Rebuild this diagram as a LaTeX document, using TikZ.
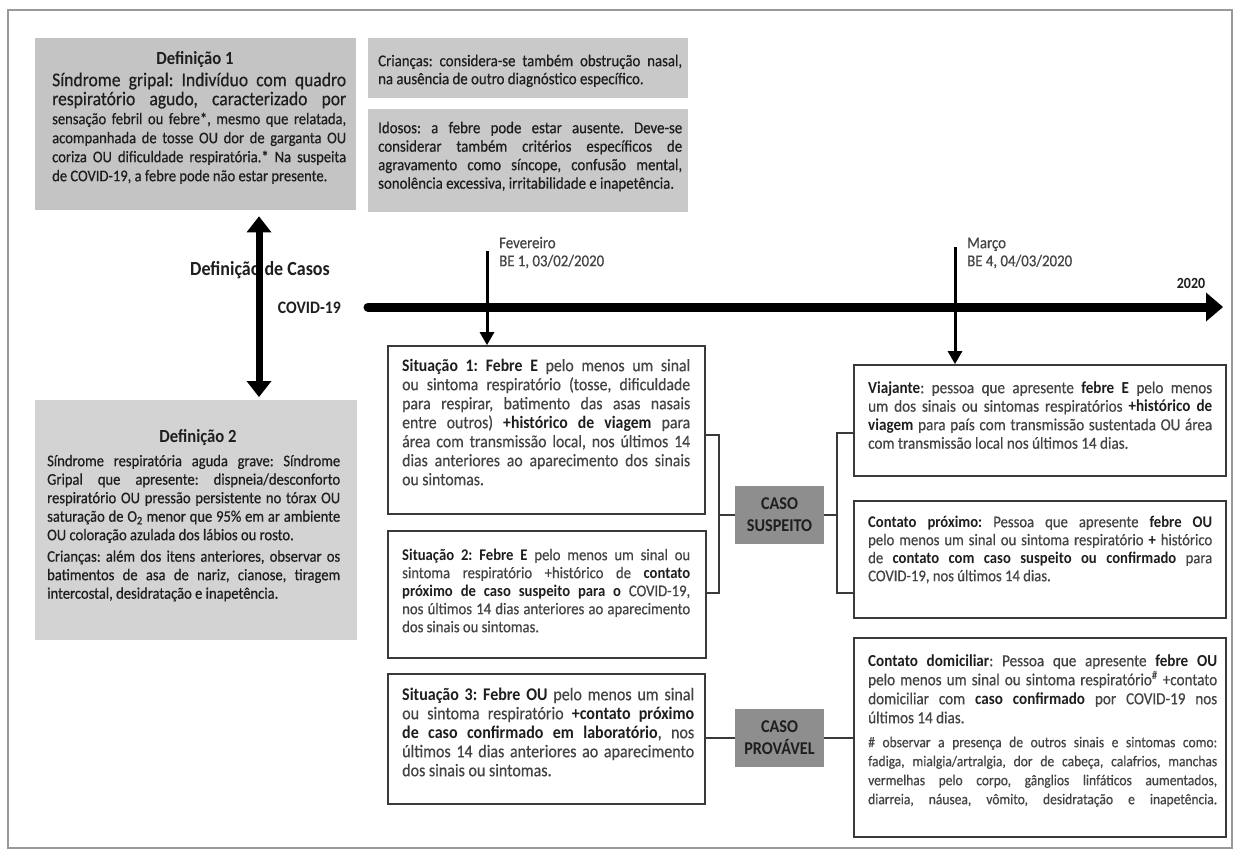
\documentclass[tikz,border=0pt]{standalone}
\usepackage{fontspec}
\setmainfont{Carlito}[FakeStretch=0.9, UprightFeatures={FakeBold=0.5}]
\usetikzlibrary{arrows.meta}
\definecolor{gA}{HTML}{C4C4C4}
\definecolor{gB}{HTML}{C9C9C9}
\definecolor{gC}{HTML}{D3D3D3}
\definecolor{gD}{HTML}{8E8E8E}
\definecolor{ink}{HTML}{1E1E1E}
\definecolor{soft}{HTML}{444444}
\definecolor{edge}{HTML}{3A3A3A}
\newcommand{\st}{\rule{0pt}{1em}}
\newcommand{\strongt}[1]{\textbf{\color{ink}#1}}
\newcommand{\fsz}[2]{\fontsize{#1}{#2}\selectfont}
\tolerance=10000
\hbadness=10000
\frenchspacing
\begin{document}
\begin{tikzpicture}[x=1pt,y=-1pt,
  graybox/.style={draw=none, inner sep=0pt, anchor=north west},
  wbox/.style={draw=edge, line width=1.8pt, fill=white, inner sep=0pt, anchor=north west},
  casebox/.style={fill=gD, inner sep=0pt, minimum width=89pt, minimum height=58pt, align=center, text=ink, font=\bfseries\fsz{18}{22}},
  txt/.style={anchor=north west, inner sep=0pt, align=justify},
  lbl/.style={anchor=base, inner sep=0pt, text=ink},
  link/.style={draw=edge, line width=1.6pt},
  tickarrow/.style={line width=3pt, -{Triangle[width=15pt,length=13pt,line width=0pt]}}
]
\useasboundingbox[fill=white] (0,0) rectangle (1239,859);
\draw[draw=black!40, line width=1.2pt] (8,10) rectangle (1232,848);

% Definition 1
\node[graybox, fill=gA, minimum width=321pt, minimum height=172pt] (d1) at (35,38) {};
\node[lbl, font=\bfseries\fsz{18.5}{20}] (d1h) at (195,65) {Definição 1};
\node[txt, text width=294pt, text=ink, font=\fsz{16.2}{19}] (d1t) at (52,66.5) {\noindent\parfillskip=0pt {\fsz{19.5}{19}\st Síndrome gripal: Indivíduo com quadro \linebreak respiratório agudo, caracterizado por} \linebreak sensação febril ou febre*, mesmo que relatada, \linebreak acompanhada de tosse OU dor de garganta OU \linebreak coriza OU dificuldade respiratória.* Na suspeita \linebreak de COVID-19, a febre pode não estar presente.};

% Criancas / Idosos
\node[graybox, fill=gB, minimum width=320pt, minimum height=60pt] (kid) at (368,38) {};
\node[txt, text width=304pt, text=ink, font=\fsz{16.5}{18}] (kidt) at (378,49.5) {\noindent\st Crianças: considera-se também obstrução nasal, \linebreak na ausência de outro diagnóstico específico.};
\node[graybox, fill=gB, minimum width=320pt, minimum height=103pt] (old) at (368,109) {};
\node[txt, text width=304pt, text=ink, font=\fsz{16.5}{18.5}] (oldt) at (378,116.5) {\noindent\parfillskip=0pt \st Idosos: a febre pode estar ausente. Deve-se \linebreak considerar também critérios específicos de \linebreak agravamento como síncope, confusão mental, \linebreak sonolência excessiva, irritabilidade e inapetência.};

% Definition 2
\node[graybox, fill=gC, minimum width=322pt, minimum height=240pt] (d2) at (35,400) {};
\node[lbl, font=\bfseries\fsz{18.5}{20}] (d2h) at (198,442) {Definição 2};
\node[txt, text width=293pt, text=ink, font=\fsz{16.2}{18.5}] (d2t) at (47,449.8) {\noindent\st Síndrome respiratória aguda grave: Síndrome \linebreak Gripal que apresente: dispneia/desconforto \linebreak respiratório OU pressão persistente no tórax OU \linebreak saturação de O\textsubscript{2} menor que 95\% em ar ambiente \linebreak OU coloração azulada dos lábios ou rosto.\par\vspace{3pt}\noindent Crianças: além dos itens anteriores, observar os \linebreak batimentos de asa de nariz, cianose, tiragem \linebreak intercostal, desidratação e inapetência.};

% Labels near the vertical arrow
\node[lbl, font=\bfseries\fsz{20}{22}] (dc) at (260,275) {Definição de Casos};
\node[anchor=base east, inner sep=0pt, text=ink, font=\bfseries\fsz{17.5}{20}] (cv) at (341,313) {COVID-19};
\coordinate (vx) at (259,0);
\draw[line width=7pt, {Triangle[width=25pt,length=16pt,line width=0pt]}-{Triangle[width=25pt,length=16pt,line width=0pt]}] ([yshift=-6pt]d1.south -| vx) -- ([yshift=3pt]d2.north -| vx);

% Timeline
\coordinate (t0) at (368,307);
\coordinate (t1) at (1223,307);
\draw[line width=9pt, line cap=round, -{Triangle[width=29pt,length=17pt,line width=0pt]}] (t0) -- (t1);
\node[lbl, font=\bfseries\fsz{15.5}{16}] (yr) at (1191,288) {2020};
\node[anchor=north west, inner sep=0pt, align=left, text=soft, font=\fsz{16.5}{18}] (fevt) at (499,231.5) {\st Fevereiro\\BE 1, 03/02/2020};
\node[anchor=north west, inner sep=0pt, align=left, text=soft, font=\fsz{16.5}{18}] (mart) at (967,231.5) {\st Março\\BE 4, 04/03/2020};

% Situations
\node[wbox, minimum width=317pt, minimum height=168pt] (s1) at (387,345) {};
\node[txt, text width=288pt, text=soft, font=\fsz{17.5}{19}] (s1t) at (402,353.5) {\noindent\st\strongt{Situação 1: Febre E} pelo menos um sinal \linebreak ou sintoma respiratório (tosse, dificuldade \linebreak para respirar, batimento das asas nasais \linebreak entre outros) \strongt{+histórico de viagem} para \linebreak área com transmissão local, nos últimos 14 \linebreak dias anteriores ao aparecimento dos sinais \linebreak ou sintomas.};
\node[wbox, minimum width=318pt, minimum height=127pt] (s2) at (387,530) {};
\node[txt, text width=288pt, text=soft, font=\fsz{16.3}{18}] (s2t) at (402,543.7) {\noindent\st\strongt{Situação 2: Febre E} pelo menos um sinal ou \linebreak sintoma respiratório +histórico de \strongt{contato} \linebreak \strongt{próximo de caso suspeito para o} COVID-19, \linebreak nos últimos 14 dias anteriores ao aparecimento \linebreak dos sinais ou sintomas.};
\node[wbox, minimum width=317pt, minimum height=130pt] (s3) at (387,673) {};
\node[txt, text width=292pt, text=soft, font=\fsz{17.8}{19}] (s3t) at (402,682.2) {\noindent\st\strongt{Situação 3: Febre OU} pelo menos um sinal \linebreak ou sintoma respiratório \strongt{+contato próximo} \linebreak \strongt{de caso confirmado em laboratório}, nos \linebreak últimos 14 dias anteriores ao aparecimento \linebreak dos sinais ou sintomas.};

% Case boxes
\node[casebox] (cs) at (779.5,515) {CASO\\SUSPEITO};
\node[casebox] (cpv) at (779.5,738) {CASO\\PROVÁVEL};

% Right boxes
\node[wbox, minimum width=372pt, minimum height=111pt] (vj) at (853,364) {};
\node[txt, text width=344pt, text=soft, font=\fsz{16.8}{18.5}] (vjt) at (868,376.2) {\noindent\st\strongt{Viajante}: pessoa que apresente \strongt{febre E} pelo menos \linebreak um dos sinais ou sintomas respiratórios \strongt{+histórico de} \linebreak \strongt{viagem} para país com transmissão sustentada OU área \linebreak com transmissão local nos últimos 14 dias.};
\node[wbox, minimum width=372pt, minimum height=117pt] (cpx) at (853,500) {};
\node[txt, text width=344pt, text=soft, font=\fsz{16.3}{18}] (cpxt) at (868,510.7) {\noindent\st\strongt{Contato próximo:} Pessoa que apresente \strongt{febre OU} \linebreak pelo menos um sinal ou sintoma respiratório \strongt{+} histórico \linebreak de \strongt{contato com caso suspeito ou confirmado} para \linebreak COVID-19, nos últimos 14 dias.};
\node[wbox, minimum width=372pt, minimum height=199pt] (cdm) at (853,637) {};
\node[txt, text width=349pt, text=soft, font=\fsz{16.8}{19}] (cdmt) at (868,649.2) {\noindent\st\strongt{Contato domiciliar}: Pessoa que apresente \strongt{febre OU} \linebreak pelo menos um sinal ou sintoma respiratório\textsuperscript{\#} +contato \linebreak domiciliar com \strongt{caso confirmado} por COVID-19 nos \linebreak últimos 14 dias.\par\vspace{5pt}{\fsz{15}{19}\noindent\parfillskip=0pt \# observar a presença de outros sinais e sintomas como: \linebreak fadiga, mialgia/artralgia, dor de cabeça, calafrios, manchas \linebreak vermelhas pelo corpo, gânglios linfáticos aumentados, \linebreak diarreia, náusea, vômito, desidratação e inapetência.\par}};

% Tick arrows
\coordinate (fv) at (487,251);
\coordinate (mr) at (955,247);
\draw[tickarrow] (fv) -- (fv |- s1.north);
\draw[tickarrow] (mr) -- (mr |- vj.north);

% Connectors
\coordinate (a1) at (719,435);
\coordinate (a2) at (719,593);
\coordinate (b1) at (837,433);
\coordinate (b2) at (837,593);
\draw[link] (s1.east |- a1) -- (a1) -- (a2) -- (s2.east |- a2);
\draw[link] (cs.west -| a1) -- (cs.west);
\draw[link] (cs.east) -- (cs.east -| b1);
\draw[link] (vj.west |- b1) -- (b1) -- (b2) -- (cpx.west |- b2);
\draw[link] (s3.east |- cpv.west) -- (cpv.west);
\draw[link] (cpv.east) -- (cdm.west |- cpv.east);
\end{tikzpicture}
\end{document}
